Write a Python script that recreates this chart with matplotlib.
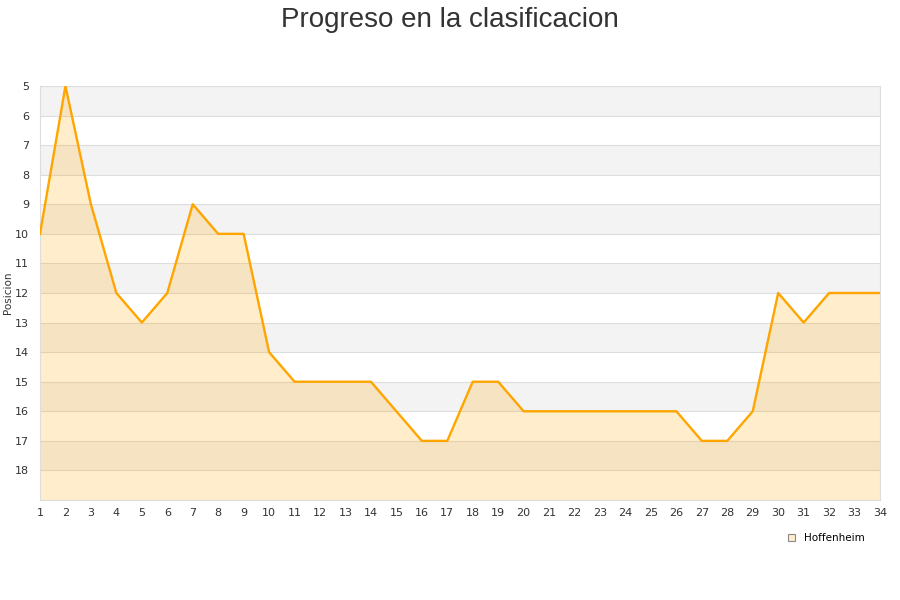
import matplotlib
matplotlib.use("Agg")
import matplotlib.pyplot as plt
import numpy as np

# Datos
jornadas = list(range(1, 35))
posicion = [10, 5, 9, 12, 13, 12, 9, 10, 10, 14, 15, 15, 15, 15, 16, 17, 17,
            15, 15, 16, 16, 16, 16, 16, 16, 16, 17, 17, 16, 12, 13, 12, 12, 12]
equipo = "Hoffenheim"
titulo = "Progreso en la clasificacion"
y_ticks = list(range(5, 19))

fig = plt.figure(figsize=(9, 6), dpi=100)
ax = fig.add_axes([40 / 900, 100 / 600, 840 / 900, 414 / 600])

# Bandas alternas
for y0 in range(5, 19, 2):
    ax.axhspan(y0, y0 + 1, color="#f3f3f3", zorder=0, lw=0)
for y in range(6, 19):
    ax.axhline(y, color="#dddddd", lw=0.8, zorder=1)

ax.fill_between(jornadas, posicion, 19, color="#FFA500", alpha=0.2, lw=0, zorder=2)
ax.plot(jornadas, posicion, color="#FFA500", lw=1.7, zorder=3)

ax.set_xlim(1, 34)
ax.set_ylim(19, 5)
ax.set_xticks(jornadas)
ax.set_yticks(y_ticks)
ax.tick_params(axis="both", labelsize=8, colors="#333333", length=0)
ax.tick_params(axis="x", pad=6)
ax.tick_params(axis="y", pad=8)
for s in ax.spines.values():
    s.set_color("#dddddd")
    s.set_linewidth(0.8)

ax.set_ylabel("Posicion", fontsize=7.5, color="#333333", labelpad=1)

fig.text(0.5, 0.988, titulo, ha="center", va="top", fontsize=20,
         color="#333333", family="Liberation Sans")

# Leyenda
fig.legend([plt.Rectangle((0, 0), 1, 1, fc="#FFEDCC", ec="#888888", lw=0.8)], [equipo],
           loc="center", bbox_to_anchor=(0.918, 0.103), frameon=False, fontsize=7.5,
           handlelength=0.7, handleheight=0.7, handletextpad=0.8)

fig.savefig("out.png", dpi=100)
plt.close(fig)
